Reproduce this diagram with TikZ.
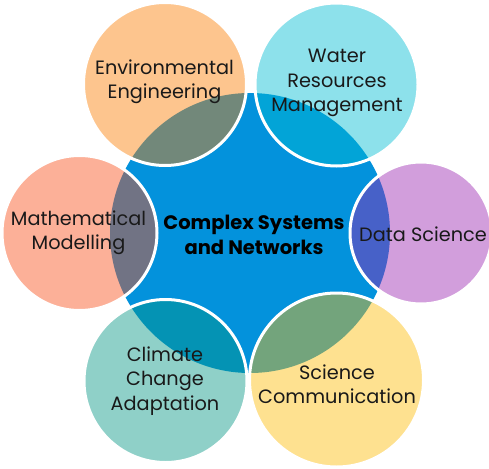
\documentclass[tikz,border=0pt]{standalone}
\usepackage{fontspec}
\setmainfont{Poppins}
\definecolor{cblue}{RGB}{3,146,220}
\definecolor{corange}{RGB}{250,126,4}
\definecolor{ccyan}{RGB}{2,188,211}
\definecolor{cpurple}{RGB}{155,39,177}
\definecolor{csalmon}{RGB}{248,79,26}
\definecolor{cteal}{RGB}{6,150,133}
\definecolor{cyellow}{RGB}{253,188,8}
\definecolor{ctext}{RGB}{25,25,25}
\tikzset{
  topic/.style={circle, inner sep=0pt, fill=#1, fill opacity=0.45, draw=white, draw opacity=1, line width=3pt},
  lbl/.style={align=center, text=ctext, font=\fontsize{19.3}{24.5}\selectfont},
  hub/.style={circle, inner sep=0pt, fill=cblue, minimum size=280pt},
}
\begin{document}
\begin{tikzpicture}[x=1pt,y=-1pt]
\useasboundingbox (0,0) rectangle (489,468);
\node[hub] (hub) at (250,233) {};
\node[topic=corange, minimum size=163pt] (env) at (165,84) {};
\node[topic=ccyan, minimum size=163pt] (wat) at (336.5,84.5) {};
\node[topic=cpurple, minimum size=142pt] (dat) at (421,233) {};
\node[topic=csalmon, minimum size=155pt] (mat) at (79.5,233) {};
\node[topic=cteal, minimum size=163pt] (cli) at (165.5,381) {};
\node[topic=cyellow, minimum size=174pt] (sci) at (336.5,380) {};
\node[align=center, text=black, font=\bfseries\fontsize{19.5}{25}\selectfont] (hubt) at (254,235) {Complex Systems\\and Networks};
\node[lbl] (envt) at (164.5,82) {Environmental\\Engineering};
\node[lbl] (watt) at (337,83) {Water\\Resources\\Management};
\node[lbl] (datt) at (423,234) {Data Science};
\node[lbl] (matt) at (78.5,233) {Mathematical\\Modelling};
\node[lbl] (clit) at (165,381) {Climate\\Change\\Adaptation};
\node[lbl] (scit) at (337,384) {Science\\Communication};
\end{tikzpicture}
\end{document}
